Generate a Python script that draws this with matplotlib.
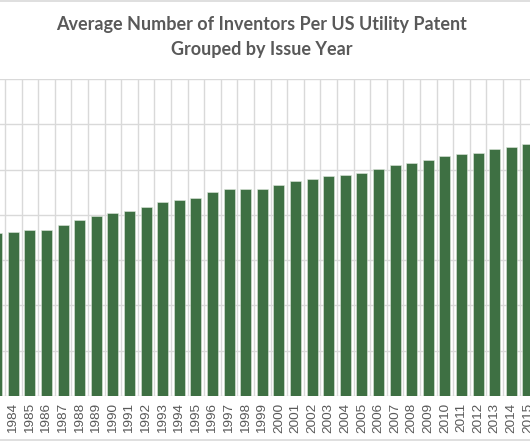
import matplotlib
matplotlib.use("Agg")
import matplotlib.pyplot as plt
from matplotlib.lines import Line2D

years = list(range(1983, 2016))
avg_inventors = [1.80, 1.81, 1.83, 1.835, 1.885, 1.945, 1.985, 2.025, 2.04, 2.09,
                 2.14, 2.16, 2.185, 2.25, 2.28, 2.29, 2.29, 2.325, 2.37, 2.40,
                 2.43, 2.44, 2.46, 2.505, 2.545, 2.57, 2.605, 2.65, 2.668, 2.68,
                 2.723, 2.748, 2.785]
tick_labels = [str(y) for y in years]
title_lines = ["Average Number of Inventors Per US Utility Patent", "Grouped by Issue Year"]

W, H = 530, 442
fig = plt.figure(figsize=(W / 100, H / 100), dpi=100)
fig.patch.set_facecolor("white")

# axes placement (extends beyond the cropped figure on left/right)
x0_px = -11.6
x1_px = 536.2
y_base = 396.0
y_top = 79.0
ax = fig.add_axes([x0_px / W, (H - y_base) / H, (x1_px - x0_px) / W, (y_base - y_top) / H])

ax.bar(years, avg_inventors, width=0.66, color="#3e7043", edgecolor="#dfe8de",
       linewidth=0.4, zorder=3)
ax.set_xlim(years[0] - 0.5, years[-1] + 0.5)
ax.set_ylim(0, 3.5)
ax.set_yticks([0.5 * i for i in range(8)])
ax.set_xticks(years)
ax.set_xticklabels(tick_labels, rotation=90, fontsize=9.7, color="#595959",
                   family="Liberation Sans")
ax.set_xticks([y + 0.5 for y in years[:-1]] + [years[0] - 0.5], minor=True)
ax.tick_params(axis="x", which="both", length=0, pad=5)
ax.tick_params(axis="y", which="both", length=0, labelleft=False)
ax.grid(axis="y", which="major", color="#d9d9d9", linewidth=1.0, zorder=0)
ax.grid(axis="x", which="minor", color="#d9d9d9", linewidth=1.0, zorder=0)
ax.grid(axis="x", which="major", visible=False)
for s in ax.spines.values():
    s.set_visible(False)

fig.text(261.5 / W, 1 - 24.5 / H, title_lines[0], ha="center", va="center", fontsize=13,
         color="#595959", family="Lato", fontweight="bold")
fig.text(261.5 / W, 1 - 49.5 / H, title_lines[1], ha="center", va="center", fontsize=13,
         color="#595959", family="Lato", fontweight="bold")

# chart-area border lines (top/bottom)
fig.add_artist(Line2D([0, 1], [1 - 0.8 / H, 1 - 0.8 / H], color="#d9d9d9", lw=1.2,
                      transform=fig.transFigure))
fig.add_artist(Line2D([0, 1], [1 - 440 / H, 1 - 440 / H], color="#d9d9d9", lw=1.2,
                      transform=fig.transFigure))

fig.savefig("out.png", dpi=100)
